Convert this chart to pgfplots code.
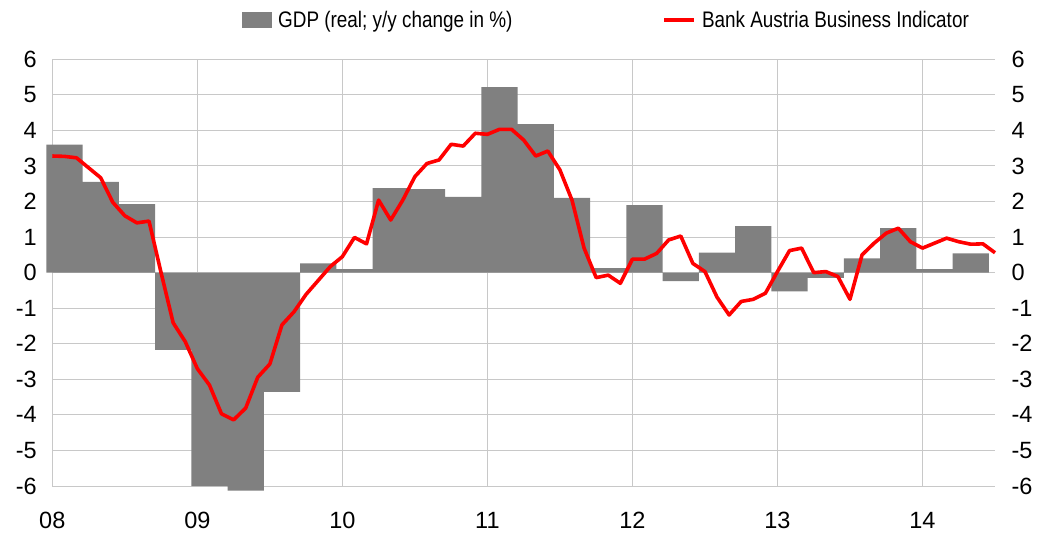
\documentclass[border=0pt]{standalone}
\usepackage{fontspec}
\setmainfont{Liberation Sans}
\newfontfamily\legfont{Liberation Sans}[FakeStretch=0.84]
\usepackage{pgfplots}
\usepackage{pgfplotstable}
\pgfplotsset{compat=1.18}
\definecolor{gdpgray}{HTML}{808080}
\definecolor{gridc}{HTML}{C8C8C8}

\pgfplotstableread{
x y
0 3.28
1 3.27
2 3.23
3 2.95
4 2.67
5 1.98
6 1.60
7 1.40
8 1.45
9 0.00
10 -1.41
11 -1.94
12 -2.70
13 -3.16
14 -3.97
15 -4.14
16 -3.81
17 -2.94
18 -2.57
19 -1.47
20 -1.10
21 -0.61
22 -0.22
23 0.17
24 0.45
25 0.99
26 0.81
27 2.04
28 1.48
29 2.04
30 2.70
31 3.07
32 3.17
33 3.61
34 3.56
35 3.92
36 3.89
37 4.03
38 4.03
39 3.73
40 3.28
41 3.42
42 2.89
43 2.04
44 0.69
45 -0.14
46 -0.07
47 -0.30
48 0.38
49 0.38
50 0.54
51 0.92
52 1.03
53 0.26
54 0.03
55 -0.69
56 -1.19
57 -0.81
58 -0.75
59 -0.58
60 0.03
61 0.62
62 0.69
63 0.00
64 0.03
65 -0.11
66 -0.75
67 0.50
68 0.83
69 1.11
70 1.25
71 0.87
72 0.69
73 0.83
74 0.97
75 0.87
76 0.80
77 0.81
78 0.56
}\bai

\pgfplotstableread{
x y
1 3.60
4 2.55
7 1.93
10 -2.17
13 -6.00
16 -6.13
19 -3.35
22 0.26
25 0.10
28 2.38
31 2.35
34 2.13
37 5.22
40 4.18
43 2.10
46 0.13
49 1.90
52 -0.24
55 0.56
58 1.31
61 -0.53
64 -0.15
67 0.40
70 1.25
73 0.10
76 0.54
}\gdp

\begin{document}
\begin{tikzpicture}[x=1pt,y=1pt]
\useasboundingbox (0,0) rectangle (1044,538);
\begin{axis}[
  at={(52.3pt,52pt)}, anchor=south west,
  scale only axis, width=942.7pt, height=426.7pt,
  xmin=0, xmax=78, ymin=-6, ymax=6,
  clip=false,
  axis x line*=bottom, axis y line*=left,
  axis line style={draw=gridc, line width=1pt, -},
  xtick={0,12,...,72}, xticklabels={08,09,10,11,12,13,14},
  ytick={-6,-5,...,6},
  major tick length=0pt,
  xmajorgrids, ymajorgrids,
  grid style={draw=gridc, line width=1pt},
  tick label style={font=\fontsize{23.5}{27}\selectfont},
  xticklabel style={yshift=-23pt},
  yticklabel style={xshift=-12pt},
  /pgf/number format/assume math mode=true,
  legend columns=2,
  legend style={at={(0.2012,1.092)}, anchor=west, draw=none, fill=none,
    inner sep=0pt, nodes={inner sep=0pt},
    font=\legfont\fontsize{22.5}{25}\selectfont,
    /tikz/every odd column/.append style={column sep=6pt},
    /tikz/every even column/.append style={column sep=150pt}},
]
\addplot[ybar, bar width=3, bar shift=0pt, fill=gdpgray, draw=none,
  legend image code/.code={\fill[gdpgray] (0pt,-8pt) rectangle (30pt,8pt);}]
  table[x=x,y=y] {\gdp};
\addlegendentry{GDP (real; y/y change in \%)}
\addplot[color=red, line width=3.6pt, line join=round, no markers,
  legend image code/.code={\draw[red, line width=3.6pt] (0pt,0pt) -- (30pt,0pt);}]
  table[x=x,y=y] {\bai};
\addlegendentry{Bank Austria Business Indicator}
\end{axis}
\begin{axis}[
  at={(52.3pt,52pt)}, anchor=south west,
  scale only axis, width=942.7pt, height=426.7pt,
  xmin=0, xmax=78, ymin=-6, ymax=6,
  axis x line=none, axis y line*=right,
  y axis line style={draw=none},
  ytick={-6,-5,...,6},
  major tick length=0pt,
  tick label style={font=\fontsize{23.5}{27}\selectfont},
  yticklabel style={xshift=13pt},
  /pgf/number format/assume math mode=true,
]
\addplot[draw=none] coordinates {(0,0)};
\end{axis}
\end{tikzpicture}
\end{document}
